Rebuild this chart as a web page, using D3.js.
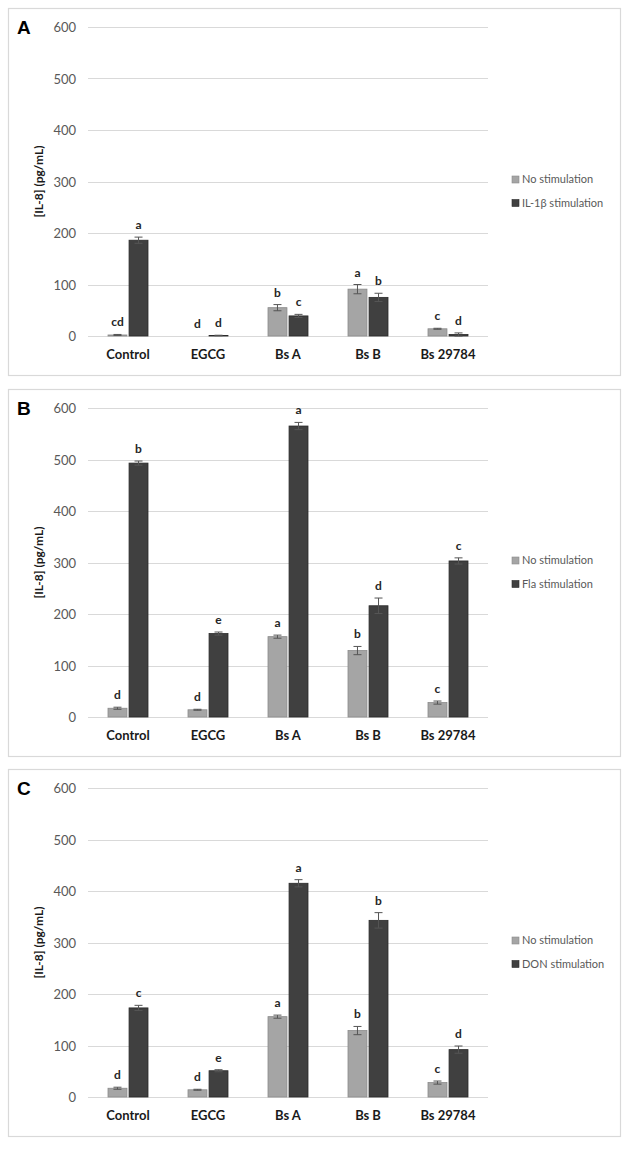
<!DOCTYPE html>
<html>
<head>
<meta charset="utf-8">
<script src="https://cdn.jsdelivr.net/npm/d3@7"></script>
<style>
  html, body { margin: 0; padding: 0; background: #ffffff; }
  svg { display: block; }
</style>
</head>
<body>
<svg id="chart" width="630" height="1149"></svg>
<script>
// ---------- data ----------
const categories = ["Control", "EGCG", "Bs A", "Bs B", "Bs 29784"];
const yTicks = [0, 100, 200, 300, 400, 500, 600];
const panelLetters = ["A", "B", "C"];
const stimNames = ["IL-1\u03b2 stimulation", "Fla stimulation", "DON stimulation"];
const seriesBase = "No stimulation";

// Panel A (IL-1β)
const aNoStim    = [2, 0, 55, 91, 14];
const aNoStimErr = [1, 0, 6, 9, 1];
const aStim      = [186, 1, 39, 75, 3];
const aStimErr   = [6, 0.5, 3, 8, 3];
const aNoLetters = ["cd", "d", "b", "a", "c"];
const aStLetters = ["a", "d", "c", "b", "d"];

// Panel B (Fla)
const bNoStim    = [17, 14, 156, 129, 28];
const bNoStimErr = [2, 1, 3, 8, 3];
const bStim      = [493, 162, 565, 216, 303];
const bStimErr   = [4, 3, 7, 15, 6];
const bNoLetters = ["d", "d", "a", "b", "c"];
const bStLetters = ["b", "e", "a", "d", "c"];

// Panel C (DON)
const cNoStim    = [17, 14, 156, 129, 28];
const cNoStimErr = [2, 1, 3, 8, 3];
const cStim      = [173, 51, 415, 343, 92];
const cStimErr   = [5, 2, 7, 15, 7];
const cNoLetters = ["d", "d", "a", "b", "c"];
const cStLetters = ["c", "e", "a", "b", "d"];

const panels = [
  { letter: panelLetters[0], stimName: stimNames[0], no: aNoStim, noErr: aNoStimErr, st: aStim, stErr: aStimErr, noL: aNoLetters, stL: aStLetters },
  { letter: panelLetters[1], stimName: stimNames[1], no: bNoStim, noErr: bNoStimErr, st: bStim, stErr: bStimErr, noL: bNoLetters, stL: bStLetters },
  { letter: panelLetters[2], stimName: stimNames[2], no: cNoStim, noErr: cNoStimErr, st: cStim, stErr: cStimErr, noL: cNoLetters, stL: cStLetters }
];

// ---------- style / layout ----------
const panelTops = [8, 389, 769];
const frameX = 8, frameW = 612, frameH = 367;
const plotLeft = 88, plotRight = 488;
const plotTopOff = 19, plotH = 309;
const lightFill = "#a5a5a5", lightStroke = "#8a8a8a";
const darkFill = "#404040", darkStroke = "#2a2a2a";
const gridColor = "#d9d9d9";
const textGray = "#595959";
const font = "Lato, 'Open Sans', sans-serif";

const svg = d3.select("#chart");

const x = d3.scaleBand().domain(categories).range([plotLeft, plotRight]).paddingInner(0).paddingOuter(0);
const sub = d3.scaleBand().domain(["no", "st"]).range([x.bandwidth() / 2 - 20, x.bandwidth() / 2 + 20]).paddingInner(0.1).paddingOuter(0);
const barW = sub.bandwidth();

panels.forEach((p, pi) => {
  const top = panelTops[pi];
  const g = svg.append("g");

  // frame
  g.append("rect")
    .attr("x", frameX + 0.5).attr("y", top + 0.5)
    .attr("width", frameW).attr("height", frameH)
    .attr("fill", "#fff").attr("stroke", "#d9d9d9").attr("stroke-width", 1.2);

  const y0 = top + plotTopOff;
  const y = d3.scaleLinear().domain([0, 600]).range([y0 + plotH, y0]);

  // gridlines
  g.append("g").selectAll("line").data(yTicks).join("line")
    .attr("x1", plotLeft).attr("x2", plotRight)
    .attr("y1", d => Math.round(y(d)) + 0.5).attr("y2", d => Math.round(y(d)) + 0.5)
    .attr("stroke", gridColor).attr("stroke-width", 1);

  // y axis labels via d3 axis
  const yAxis = d3.axisLeft(y).tickValues(yTicks).tickSize(0).tickPadding(0);
  const ya = g.append("g").attr("transform", `translate(${76},0)`).call(yAxis);
  ya.select(".domain").remove();
  ya.selectAll("text").attr("font-family", font).attr("font-size", 13).attr("fill", textGray).attr("dy", "0.35em");

  // x axis labels via d3 axis
  const xAxis = d3.axisBottom(x).tickSize(0).tickPadding(0);
  const xa = g.append("g").attr("transform", `translate(0,${y(0) + 14})`).call(xAxis);
  xa.select(".domain").remove();
  xa.selectAll("text").attr("font-family", font).attr("font-size", 13).attr("font-weight", "bold").attr("fill", "#1a1a1a");

  // bars
  const rows = categories.map((c, i) => ({ c, i }));
  const series = [
    { key: "no", vals: p.no, errs: p.noErr, lets: p.noL, fill: lightFill, stroke: lightStroke },
    { key: "st", vals: p.st, errs: p.stErr, lets: p.stL, fill: darkFill, stroke: darkStroke }
  ];
  series.forEach(s => {
    const sg = g.append("g");
    sg.selectAll("rect").data(rows).join("rect")
      .attr("x", d => x(d.c) + sub(s.key))
      .attr("y", d => y(s.vals[d.i]))
      .attr("width", barW)
      .attr("height", d => Math.max(0, y(0) - y(s.vals[d.i])))
      .attr("fill", s.fill).attr("stroke", s.stroke).attr("stroke-width", 0.8);
    // error bars
    const eg = sg.append("g").attr("stroke", "#555").attr("stroke-width", 1);
    rows.forEach(d => {
      const v = s.vals[d.i], e = s.errs[d.i];
      if (e <= 0) return;
      const cx = x(d.c) + sub(s.key) + barW / 2;
      eg.append("line").attr("x1", cx).attr("x2", cx).attr("y1", y(Math.max(0, v - e))).attr("y2", y(v + e));
      eg.append("line").attr("x1", cx - 4).attr("x2", cx + 4).attr("y1", y(v + e)).attr("y2", y(v + e));
      eg.append("line").attr("x1", cx - 4).attr("x2", cx + 4).attr("y1", y(Math.max(0, v - e))).attr("y2", y(Math.max(0, v - e)));
    });
    // letters
    sg.selectAll("text.sig").data(rows).join("text").attr("class", "sig")
      .attr("x", d => x(d.c) + sub(s.key) + barW / 2)
      .attr("y", d => y(s.vals[d.i] + s.errs[d.i]) - 8)
      .attr("text-anchor", "middle")
      .attr("font-family", font).attr("font-size", 12).attr("font-weight", "bold").attr("fill", "#262626")
      .text(d => s.lets[d.i]);
  });

  // y title
  g.append("text")
    .attr("transform", `translate(43,${y(300)}) rotate(-90)`)
    .attr("text-anchor", "middle")
    .attr("font-family", font).attr("font-size", 12).attr("font-weight", "bold").attr("fill", "#1a1a1a")
    .text("[IL-8] (pg/mL)");

  // panel letter
  g.append("text")
    .attr("x", 17).attr("y", top + 26)
    .attr("font-family", "'Liberation Sans', Arial, sans-serif").attr("font-size", 19).attr("font-weight", "bold").attr("fill", "#000")
    .text(p.letter);

  // legend
  const legendItems = [
    { name: seriesBase, fill: lightFill, stroke: lightStroke },
    { name: p.stimName, fill: darkFill, stroke: darkStroke }
  ];
  const lg = g.append("g").attr("transform", `translate(512,${y(300) - 2})`);
  legendItems.forEach((it, k) => {
    const row = lg.append("g").attr("transform", `translate(0,${k * 23.5})`);
    row.append("rect").attr("x", 0).attr("y", -3.5).attr("width", 7).attr("height", 7)
      .attr("fill", it.fill).attr("stroke", it.stroke).attr("stroke-width", 0.6);
    row.append("text").attr("x", 10).attr("y", 0).attr("dy", "0.35em")
      .attr("font-family", font).attr("font-size", 11).attr("fill", textGray)
      .text(it.name);
  });
});
</script>
</body>
</html>
